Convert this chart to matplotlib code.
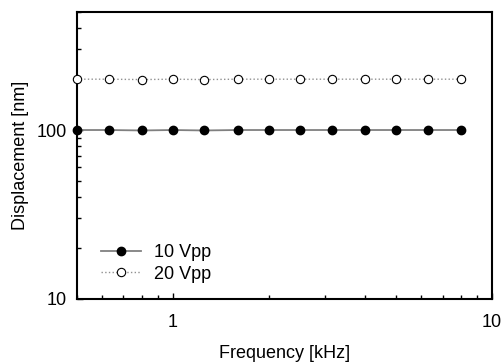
import matplotlib.pyplot as plt
from matplotlib.ticker import LogLocator, NullFormatter, FixedLocator, FixedFormatter

plt.rcParams['font.family'] = ['Liberation Sans', 'DejaVu Sans']

# frequency points (kHz), 1/3 octave steps
freq = [0.5, 0.63, 0.8, 1.0, 1.25, 1.6, 2.0, 2.5, 3.15, 4.0, 5.0, 6.3, 8.0]
disp_10vpp = [100, 100, 99.4, 100, 99.4, 100, 100, 100, 100, 100, 100, 100, 100]
disp_20vpp = [200, 200, 199, 200, 199, 200, 200, 200, 200, 200, 200, 200, 200]

fig = plt.figure(figsize=(5.02, 3.64), dpi=100)
ax = fig.add_axes([0.153, 0.179, 0.827, 0.788])

ax.plot(freq, disp_10vpp, '-', color='#808080', linewidth=1.3,
        marker='o', markersize=6, markerfacecolor='black', markeredgecolor='black',
        label='10 Vpp', clip_on=False, zorder=3)
ax.plot(freq, disp_20vpp, ':', color='#909090', linewidth=1.0,
        marker='o', markersize=6, markerfacecolor='white', markeredgecolor='black',
        markeredgewidth=0.8, label='20 Vpp', clip_on=False, zorder=3)

ax.set_xscale('log')
ax.set_yscale('log')
ax.set_xlim(0.5, 10)
ax.set_ylim(10, 500)

ax.xaxis.set_major_locator(FixedLocator([1, 10]))
ax.xaxis.set_major_formatter(FixedFormatter(['1', '10']))
ax.yaxis.set_major_locator(FixedLocator([10, 100]))
ax.yaxis.set_major_formatter(FixedFormatter(['10', '100']))
ax.xaxis.set_minor_locator(LogLocator(base=10, subs=range(2, 10)))
ax.yaxis.set_minor_locator(LogLocator(base=10, subs=range(2, 10)))
ax.xaxis.set_minor_formatter(NullFormatter())
ax.yaxis.set_minor_formatter(NullFormatter())

ax.tick_params(which='both', direction='in', top=False, right=False, labelsize=13)
ax.tick_params(which='major', length=4, width=1)
ax.tick_params(axis='x', which='major', pad=11)
ax.tick_params(axis='y', which='major', pad=7)
ax.tick_params(which='minor', length=3, width=1)
for s in ax.spines.values():
    s.set_linewidth(1.5)

ax.set_xlabel('Frequency [kHz]', fontsize=13, labelpad=10)
ax.set_ylabel('Displacement [nm]', fontsize=13, labelpad=6)

ax.legend(loc='lower left', bbox_to_anchor=(0.02, 0.0), frameon=False,
          fontsize=13, handlelength=2.2, handletextpad=0.7, labelspacing=0.25)

fig.savefig('out.png', dpi=100)
